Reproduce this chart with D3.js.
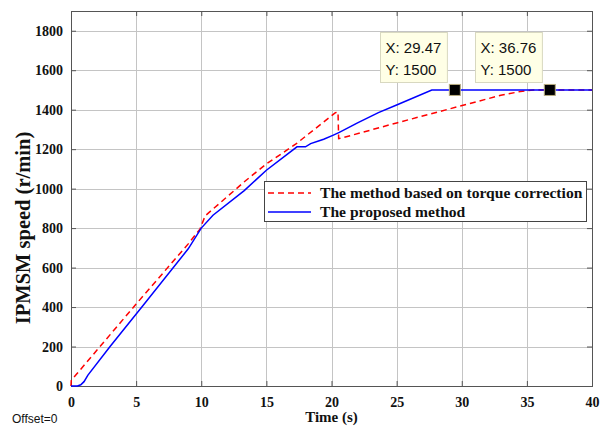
<!DOCTYPE html>
<html>
<head>
<meta charset="utf-8">
<script src="https://cdn.jsdelivr.net/npm/d3@7"></script>
<style>
  html, body { margin: 0; padding: 0; background: #fff; }
  svg { display: block; }
</style>
</head>
<body>
<svg id="chart" width="606" height="427"></svg>
<script>
// Speed response of the IPMSM during start-up
const timeProposed  = [0, 0.5, 0.75, 1.0, 1.3, 3.0, 5.5, 9.0, 10.0, 10.9, 13.3, 15.0, 17.35, 18.0, 18.4, 19.0, 19.4, 20.1, 20.6, 22.0, 23.6, 25.0, 27.7, 40];
const speedProposed = [0, 0, 6, 22, 55, 200, 405, 695, 800, 865, 990, 1093, 1212, 1212, 1228, 1241, 1250, 1270, 1285, 1333, 1385, 1424, 1500, 1500];

const timeTorque  = [0, 0.02, 0.4, 5.0, 9.0, 9.9, 10.3, 13.4, 15.0, 17.3, 20.3, 20.5, 20.55, 20.7, 22.2, 25.0, 29.8, 33.0, 34.5, 35.5, 40];
const speedTorque = [0, 28, 58, 415, 720, 795, 862, 1040, 1125, 1228, 1385, 1388, 1253, 1255, 1282, 1333, 1417, 1473, 1492, 1500, 1500];

const xTicks = [0, 5, 10, 15, 20, 25, 30, 35, 40];
const yTicks = [0, 200, 400, 600, 800, 1000, 1200, 1400, 1600, 1800];

const seriesNames = ["The method based on torque correction", "The proposed method"];
const tipTimes  = [29.47, 36.76];
const tipSpeeds = [1500, 1500];

(function draw() {
  const svg = d3.select("#chart");
  const plotLeft = 71, plotRight = 592, plotTop = 11, plotBottom = 386;

  const x = d3.scaleLinear().domain([0, 40]).range([plotLeft, plotRight]);
  const y = d3.scaleLinear().domain([0, 1900]).range([plotBottom, plotTop]);

  const serif = "'Liberation Serif', 'Times New Roman', serif";
  const sans = "'Liberation Sans', Arial, sans-serif";

  // grid
  const grid = svg.append("g").attr("stroke", "#c4c4c4").attr("stroke-width", 1);
  grid.selectAll("line.gx").data(xTicks.slice(1, -1)).join("line")
    .attr("x1", d => Math.round(x(d)) + 0.5).attr("x2", d => Math.round(x(d)) + 0.5)
    .attr("y1", plotTop).attr("y2", plotBottom);
  grid.selectAll("line.gy").data(yTicks.slice(1)).join("line")
    .attr("y1", d => Math.round(y(d)) + 0.5).attr("y2", d => Math.round(y(d)) + 0.5)
    .attr("x1", plotLeft).attr("x2", plotRight);

  // axes
  const fmt = d3.format("d");
  const xAxis = d3.axisBottom(x).tickValues(xTicks).tickFormat(fmt).tickSizeInner(-5).tickSizeOuter(0).tickPadding(11);
  const yAxis = d3.axisLeft(y).tickValues(yTicks).tickFormat(fmt).tickSizeInner(-5).tickSizeOuter(0).tickPadding(8);
  const gx = svg.append("g").attr("transform", `translate(0,${plotBottom})`).call(xAxis);
  const gy = svg.append("g").attr("transform", `translate(${plotLeft},0)`).call(yAxis);
  const gxTop = svg.append("g").attr("transform", `translate(0,${plotTop})`)
    .call(d3.axisTop(x).tickValues(xTicks).tickSizeInner(-5).tickSizeOuter(0).tickFormat(""));
  const gyRight = svg.append("g").attr("transform", `translate(${plotRight},0)`)
    .call(d3.axisRight(y).tickValues(yTicks).tickSizeInner(-5).tickSizeOuter(0).tickFormat(""));
  [gx, gy, gxTop, gyRight].forEach(g => {
    g.select(".domain").remove();
    g.selectAll(".tick line").attr("stroke", "#555");
    g.selectAll(".tick text").attr("font-family", serif).attr("font-weight", "bold")
      .attr("font-size", 14).attr("fill", "#111");
  });

  // axes box
  svg.append("rect").attr("x", plotLeft + 0.5).attr("y", plotTop + 0.5)
    .attr("width", plotRight - plotLeft).attr("height", plotBottom - plotTop)
    .attr("fill", "none").attr("stroke", "#555").attr("stroke-width", 1);

  // curves
  const line = d3.line().x(d => x(d[0])).y(d => y(d[1]));
  const torquePts = timeTorque.map((t, i) => [t, speedTorque[i]]);
  const proposedPts = timeProposed.map((t, i) => [t, speedProposed[i]]);

  svg.append("path").datum(torquePts).attr("d", line)
    .attr("fill", "none").attr("stroke", "#ff0000").attr("stroke-width", 1.5)
    .attr("stroke-dasharray", "6,4");
  svg.append("path").datum(proposedPts).attr("d", line)
    .attr("fill", "none").attr("stroke", "#0000ff").attr("stroke-width", 1.5);

  // axis titles
  svg.append("text").attr("x", x(20)).attr("y", 422).attr("text-anchor", "middle")
    .attr("font-family", serif).attr("font-weight", "bold").attr("font-size", 15)
    .attr("fill", "#111").text("Time (s)");
  svg.append("text").attr("transform", "translate(30,228) rotate(-90)")
    .attr("text-anchor", "middle")
    .attr("font-family", serif).attr("font-weight", "bold").attr("font-size", 20.5)
    .attr("fill", "#111").text("IPMSM speed (r/min)");

  svg.append("text").attr("x", 12).attr("y", 423)
    .attr("font-family", sans).attr("font-size", 12).attr("fill", "#111").text("Offset=0");

  // legend
  const lg = svg.append("g");
  lg.append("rect").attr("x", 264.5).attr("y", 181.5).attr("width", 322).attr("height", 40)
    .attr("fill", "#fff").attr("stroke", "#444").attr("stroke-width", 1);
  const legendStyles = [
    { stroke: "#ff0000", dash: "6,4" },
    { stroke: "#0000ff", dash: null }
  ];
  seriesNames.forEach((name, i) => {
    const cy = 193 + i * 19;
    lg.append("line").attr("x1", 268).attr("x2", 311).attr("y1", cy).attr("y2", cy)
      .attr("stroke", legendStyles[i].stroke).attr("stroke-width", 1.5)
      .attr("stroke-dasharray", legendStyles[i].dash);
    lg.append("text").attr("x", 320).attr("y", cy + 5)
      .attr("font-family", serif).attr("font-weight", "bold").attr("font-size", 15.6)
      .attr("fill", "#111").text(name);
  });

  // data tips
  tipTimes.forEach((t, i) => {
    const px = x(t), py = y(tipSpeeds[i]);
    const g = svg.append("g");
    const box = g.append("rect").attr("fill", "#ffffe6").attr("stroke", "#d8d8c0").attr("stroke-width", 1);
    const lines = [`X: ${t}`, `Y: ${tipSpeeds[i]}`];
    const texts = lines.map(s => g.append("text")
      .attr("font-family", sans).attr("font-size", 15).attr("fill", "#111").text(s));
    const w = Math.max(...texts.map(tx => tx.node().getComputedTextLength())) + 11;
    const h = 50;
    const bx = Math.round(px - 8 - w) + 0.5, by = Math.round(py - 8 - h) + 0.5;
    box.attr("x", bx).attr("y", by).attr("width", w).attr("height", h);
    texts.forEach((tx, k) => tx.attr("x", bx + 5).attr("y", by + 20.5 + k * 21.5));
    g.append("rect").attr("x", px - 5.5).attr("y", py - 5.5).attr("width", 11).attr("height", 11)
      .attr("fill", "#000").attr("stroke", "#b8ac80").attr("stroke-width", 1);
  });
})();
</script>
</body>
</html>
